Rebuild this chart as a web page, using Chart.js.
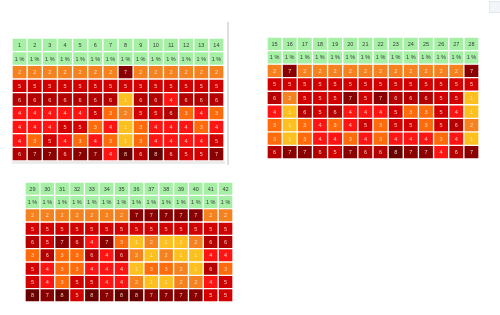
<!DOCTYPE html>
<html>
<head>
<meta charset="utf-8">
<script src="https://cdn.jsdelivr.net/npm/chart.js@4.4.1/dist/chart.umd.min.js"></script>
<style>
  html, body { margin: 0; padding: 0; background: #ffffff; width: 500px; height: 315px; overflow: hidden; }
  .wrap { position: absolute; }
  #sep { position: absolute; left: 227px; top: 22px; width: 2px; height: 143px; background: #dedede; }
  #shadow1 { position: absolute; left: 12px; top: 161px; width: 213px; height: 3px; background: #ececec; }
  #icon { position: absolute; left: 489px; top: 1px; width: 10px; height: 10px; border: 1px solid #e3e8ee; background: #f2f6fa; }
</style>
</head>
<body>
<div id="sep"></div>
<div id="shadow1"></div>
<div id="icon"></div>
<div class="wrap" style="left:12px;top:38px;"><canvas id="c1" width="212" height="123"></canvas></div>
<div class="wrap" style="left:267px;top:37px;"><canvas id="c2" width="212" height="122"></canvas></div>
<div class="wrap" style="left:25px;top:182px;"><canvas id="c3" width="208" height="120"></canvas></div>
<script>
// ---- data ----
const cols1 = ['1','2','3','4','5','6','7','8','9','10','11','12','13','14'];
const cols2 = ['15','16','17','18','19','20','21','22','23','24','25','26','27','28'];
const cols3 = ['29','30','31','32','33','34','35','36','37','38','39','40','41','42'];
const pctLabel = '1 %';

const table1Rows = [
  [2,2,2,2,2,2,2,7,2,2,2,2,2,2],
  [5,5,5,5,5,5,5,5,5,5,5,5,5,5],
  [6,6,6,6,6,6,6,1,6,6,4,6,6,6],
  [4,4,4,4,4,5,3,2,5,5,6,3,4,3],
  [4,4,4,5,5,3,4,1,3,4,4,4,3,4],
  [4,3,5,4,3,4,3,1,3,4,4,4,4,5],
  [6,7,7,6,7,7,4,8,6,8,6,5,5,7]
];
const table2Rows = [
  [2,7,2,2,2,2,2,2,2,2,2,2,2,7],
  [5,5,5,5,5,5,5,5,5,5,5,5,5,5],
  [6,2,5,5,5,7,5,7,6,6,6,5,5,1],
  [4,1,6,5,6,4,4,4,5,3,3,5,4,1],
  [3,1,3,4,3,4,5,3,5,5,3,5,6,2],
  [3,1,3,4,4,3,4,3,4,4,4,3,4,1],
  [6,7,7,6,5,7,6,6,8,7,7,4,6,7]
];
const table3Rows = [
  [2,2,2,2,2,2,2,7,7,7,7,7,2,2],
  [5,5,5,5,5,5,5,5,5,5,5,5,5,5],
  [6,5,7,6,4,7,3,1,2,1,1,2,6,6],
  [3,6,3,3,6,4,6,2,1,2,1,1,4,4],
  [5,4,3,3,4,4,4,1,3,3,2,1,6,3],
  [5,4,3,5,5,4,4,2,1,1,2,2,4,5],
  [8,7,8,5,8,7,8,8,7,7,7,7,5,5]
];

// ---- styles ----
const headerColor = '#a6f0a6';
const levelColors = {
  1: '#fdc01e',
  2: '#f5821e',
  3: '#ff6a0a',
  4: '#ff1414',
  5: '#d20000',
  6: '#b40000',
  7: '#8a0000',
  8: '#680000'
};

const labelPlugin = {
  id: 'cellLabels',
  afterDatasetsDraw(chart) {
    const ctx = chart.ctx;
    ctx.save();
    ctx.textAlign = 'center';
    ctx.textBaseline = 'middle';
    chart.data.datasets.forEach((ds, di) => {
      const meta = chart.getDatasetMeta(di);
      meta.data.forEach((el, i) => {
        const txt = ds.cellText[i];
        const cy = (el.y + el.base) / 2;
        ctx.font = '5.5px "Liberation Sans", Arial, sans-serif';
        ctx.fillStyle = di < 2 ? '#3a3a3a' : 'rgba(255,235,220,0.85)';
        ctx.fillText(txt, el.x, cy + 0.5);
      });
    });
    ctx.restore();
  }
};

function buildChart(id, cols, rows) {
  const datasets = [];
  datasets.push({
    data: cols.map(() => [0, 1]),
    backgroundColor: cols.map(() => headerColor),
    cellText: cols.slice()
  });
  datasets.push({
    data: cols.map(() => [1, 2]),
    backgroundColor: cols.map(() => headerColor),
    cellText: cols.map(() => pctLabel)
  });
  rows.forEach((row, r) => {
    datasets.push({
      data: row.map(() => [r + 2, r + 3]),
      backgroundColor: row.map(v => levelColors[v]),
      cellText: row.map(v => String(v))
    });
  });
  datasets.forEach(d => {
    d.borderColor = '#ffffff';
    d.borderWidth = 1;
    d.borderSkipped = false;
    d.barPercentage = 1;
    d.categoryPercentage = 1;
    d.grouped = false;
  });
  return new Chart(document.getElementById(id), {
    type: 'bar',
    data: { labels: cols, datasets },
    options: {
      responsive: false,
      animation: false,
      devicePixelRatio: 1,
      layout: { padding: 0 },
      plugins: { legend: { display: false }, tooltip: { enabled: false } },
      scales: {
        x: { display: false, offset: true },
        y: { display: false, min: 0, max: rows.length + 2, reverse: true }
      }
    },
    plugins: [labelPlugin]
  });
}

buildChart('c1', cols1, table1Rows);
buildChart('c2', cols2, table2Rows);
buildChart('c3', cols3, table3Rows);
</script>
</body>
</html>
